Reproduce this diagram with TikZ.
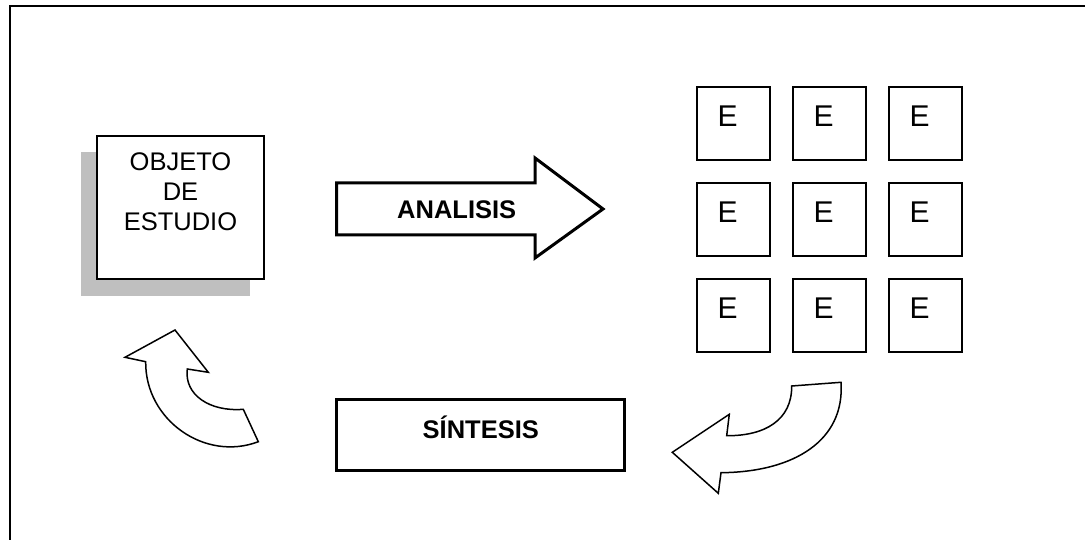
\documentclass[tikz,border=0pt]{standalone}
\usepackage{fontspec}
\setmainfont{Liberation Sans}
\begin{document}
\begin{tikzpicture}[x=1pt,y=-1pt,
  label25/.style={inner sep=0pt,font=\fontsize{25.5}{30}\selectfont},
  boldlabel/.style={inner sep=0pt,font=\fontsize{25.5}{30}\selectfont\bfseries},
  elembox/.style={draw,line width=2pt,minimum width=73pt,minimum height=73pt,inner sep=0pt},
  heavyline/.style={line width=3pt,line join=miter},
  curvedarrow/.style={draw,fill=white,line width=1.5pt,line join=miter}]
\useasboundingbox (0,0) rectangle (1085,540);

% open frame: top and left edges
\draw[line width=1.7pt] (10,540) -- (10,6) -- (1085,6);

% object of study, with its drop shadow
\fill[black!25] (81,152) rectangle (250,296);
\node[draw,fill=white,line width=2.2pt,minimum width=167pt,minimum height=143pt,inner sep=0pt]
  (obj) at (180.5,207.5) {};
\node[label25,align=center,anchor=north] (objtext) at (180.5,152.5) {OBJETO\\DE\\ESTUDIO};

% analysis arrow
\draw[heavyline] (336.7,183) -- (535,183) -- (535,158) -- (603,209) -- (535,258)
  -- (535,235) -- (336.7,235) -- cycle;
\node[boldlabel,anchor=base] (analisis) at (456.7,218.3) {ANALISIS};

% grid of elements
\foreach \r in {0,1,2} {
  \foreach \c in {0,1,2} {
    \node[elembox] (e-\r-\c) at ({733.5+96*\c},{123.7+96*\r}) {};
    \node[inner sep=0pt,font=\fontsize{30}{36}\selectfont,anchor=base]
      (t-\r-\c) at ({727.5+96*\c},{126.7+96*\r}) {E};
  }
}

% synthesis box
\node[draw,line width=3pt,minimum width=288pt,minimum height=70.7pt,inner sep=0pt]
  (sint) at (480.8,435.3) {};
\node[boldlabel,anchor=base] (sinttext) at (480.8,438.3) {SÍNTESIS};

% curved arrow from the elements back to the synthesis
\draw[curvedarrow] (791.7,386) -- (841,382.3)
  .. controls (845,440) and (795,472) .. (721,472.7)
  -- (718.3,493.3) -- (672.3,452.3) -- (729.3,414.3) -- (726.7,435.7)
  .. controls (765,436) and (792,420) .. (791.7,386) -- cycle;

% curved arrow from the synthesis back to the object
\draw[curvedarrow] (175,330) -- (208.3,372.3) -- (187.3,369)
  .. controls (184,395) and (210,412) .. (243.3,409.3)
  -- (258.3,441.7)
  .. controls (205,462) and (145,420) .. (145.7,361.7)
  -- (125,357.3) -- cycle;
\end{tikzpicture}
\end{document}
